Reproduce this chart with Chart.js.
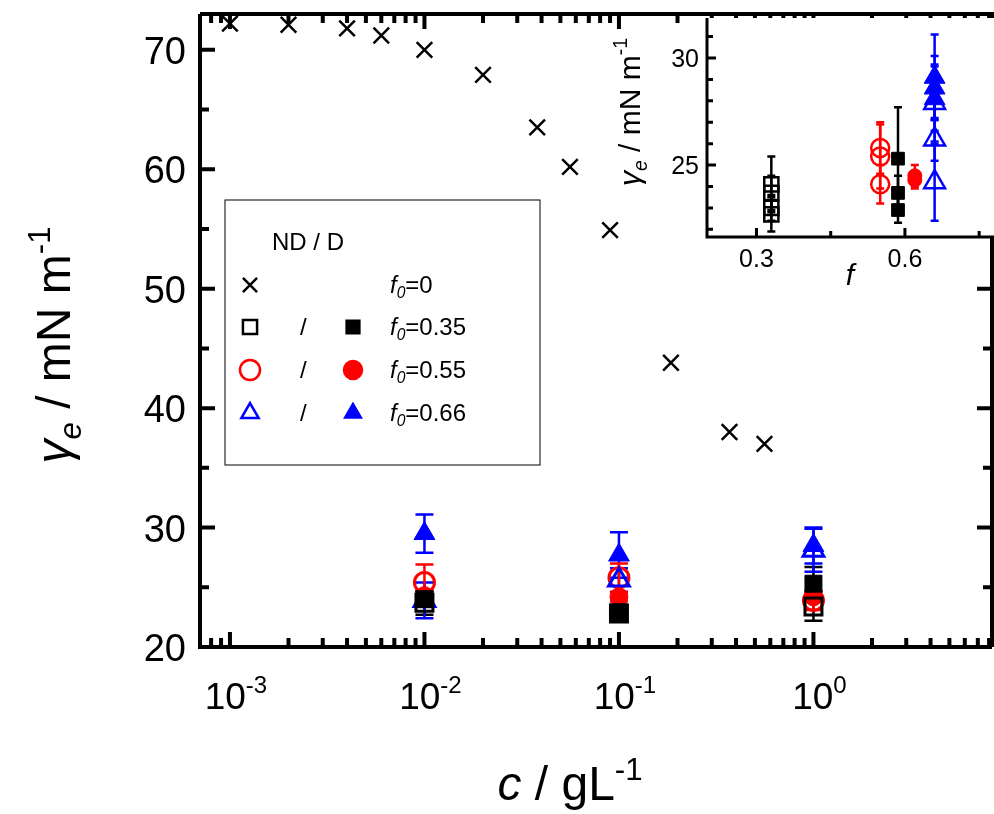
<!DOCTYPE html>
<html>
<head>
<meta charset="utf-8">
<script src="https://cdn.jsdelivr.net/npm/chart.js@4.4.1/dist/chart.umd.min.js"></script>
<style>
  body { margin: 0; background: #fff; }
  #wrap { position: relative; width: 994px; height: 814px; }
  #main { position: absolute; left: 0; top: 0; }
  #inset { position: absolute; left: 600px; top: 0; }
</style>
</head>
<body>
<div id="wrap">
  <canvas id="main" width="994" height="814"></canvas>
  <canvas id="inset" width="394" height="290"></canvas>
</div>
<script>
// dados do grafico principal
const conc = [0.01, 0.1, 1];
const f0Conc = [0.001, 0.002, 0.004, 0.006, 0.01, 0.02, 0.038, 0.056, 0.09, 0.185, 0.37, 0.56];
const f0Gamma = [72.2, 72.1, 71.8, 71.2, 70.0, 67.9, 63.5, 60.2, 54.9, 43.8, 38.0, 37.0];
const sqOpen = [23.7, 22.8, 23.4], sqOpenErr = [1.0, 0.5, 1.2];
const sqFill = [24.0, 22.9, 25.3], sqFillErr = [0.6, 0.4, 1.4];
const ciOpen = [25.4, 25.8, 23.9], ciOpenErr = [1.5, 1.2, 0.8];
const ciFill = [24.3, 24.2, 24.2], ciFillErr = [0.5, 0.4, 0.4];
const trOpen = [23.9, 25.6, 28.1], trOpenErr = [1.5, 1.0, 1.8];
const trFill = [29.5, 27.7, 28.5], trFillErr = [1.6, 1.9, 1.5];
const xTicks = [0.001, 0.01, 0.1, 1];
const xTickExp = ['-3', '-2', '-1', '0'];
const yTicks = [20, 30, 40, 50, 60, 70];

// dados do inset (gamma_e vs f)
const inSqOpenF = [0.33, 0.33, 0.33, 0.33], inSqOpen = [24.1, 23.7, 23.0, 22.7], inSqOpenErr = [1.3, 0.8, 0.6, 0.8];
const inSqFillF = [0.586, 0.586, 0.586], inSqFill = [25.3, 23.7, 22.9], inSqFillErr = [2.4, 0.8, 0.6];
const inCiOpenF = [0.55, 0.55, 0.55], inCiOpen = [25.8, 25.4, 24.1], inCiOpenErr = [1.2, 1.5, 0.9];
const inCiFillF = [0.62, 0.62], inCiFill = [24.5, 24.3], inCiFillErr = [0.5, 0.4];
const inTrOpenF = [0.66, 0.66, 0.66], inTrOpen = [27.9, 26.2, 24.2], inTrOpenErr = [1.8, 1.0, 1.8];
const inTrFillF = [0.66, 0.66, 0.66], inTrFill = [29.1, 28.6, 28.1], inTrFillErr = [2.0, 1.5, 1.5];
const inXTicks = [0.3, 0.6];
const inYTicks = [25, 30];

const FONT = '"Liberation Sans", Arial, sans-serif';
const BLUE = '#0000ff', RED = '#ff0000', BLACK = '#000000';

function pts(xs, ys, errs) {
    return xs.map((x, i) => ({ x: x, y: ys[i], e: errs ? errs[i] : 0 }));
}

function ds(label, data, style, color, filled, r, bw) {
    return {
        label: label, data: data, showLine: false, pointStyle: style,
        pointRadius: r, pointHoverRadius: r, pointBorderWidth: bw,
        borderColor: color, pointBorderColor: color,
        pointBackgroundColor: filled ? color : 'rgba(255,255,255,0)'
    };
}

// barras de erro usando as escalas do chart
const errorBars = {
    id: 'errorBars',
    beforeDatasetsDraw(chart, args, opts) {
        const ctx = chart.ctx, xs = chart.scales.x, ys = chart.scales.y;
        ctx.save();
        chart.data.datasets.forEach(d => {
            ctx.strokeStyle = d.borderColor;
            ctx.lineWidth = opts.width;
            d.data.forEach(p => {
                if (!p.e) return;
                const px = xs.getPixelForValue(p.x);
                const y1 = ys.getPixelForValue(p.y - p.e), y2 = ys.getPixelForValue(p.y + p.e);
                ctx.beginPath();
                ctx.moveTo(px, y1); ctx.lineTo(px, y2);
                ctx.moveTo(px - opts.cap, y1); ctx.lineTo(px + opts.cap, y1);
                ctx.moveTo(px - opts.cap, y2); ctx.lineTo(px + opts.cap, y2);
                ctx.stroke();
            });
        });
        ctx.restore();
    }
};

// eixos com ticks para dentro
function drawFrame(chart, o) {
    const ctx = chart.ctx, a = chart.chartArea, xs = chart.scales.x, ys = chart.scales.y;
    const inX = v => v >= xs.min && v <= xs.max;
    const inY = v => v >= ys.min && v <= ys.max;
    ctx.save();
    ctx.strokeStyle = '#000';
    ctx.lineWidth = o.lw;
    ctx.beginPath();
    ctx.moveTo(a.left, a.top); ctx.lineTo(a.left, a.bottom); ctx.lineTo(a.right, a.bottom);
    if (o.box) { ctx.moveTo(a.left, a.top); ctx.lineTo(a.right, a.top); ctx.lineTo(a.right, a.bottom); }
    ctx.stroke();
    ctx.beginPath();
    [[o.xMajor, o.maj], [o.xMinor, o.min]].forEach(([vals, len]) => vals.filter(inX).forEach(v => {
        const p = xs.getPixelForValue(v);
        ctx.moveTo(p, a.bottom); ctx.lineTo(p, a.bottom - len);
        if (o.box) { ctx.moveTo(p, a.top); ctx.lineTo(p, a.top + len); }
    }));
    [[o.yMajor, o.maj], [o.yMinor, o.min]].forEach(([vals, len]) => vals.filter(inY).forEach(v => {
        const p = ys.getPixelForValue(v);
        ctx.moveTo(a.left, p); ctx.lineTo(a.left + len, p);
        if (o.box) { ctx.moveTo(a.right, p); ctx.lineTo(a.right - len, p); }
    }));
    ctx.stroke();
    ctx.restore();
}

// texto com partes italicas, subscritas e sobrescritas
function richText(ctx, x, y, parts, size, align) {
    const fnt = p => (p.it ? 'italic ' : '') + (p.sub || p.sup ? size * 0.65 : size) + 'px ' + FONT;
    const w = parts.reduce((s, p) => { ctx.font = fnt(p); return s + ctx.measureText(p.t).width; }, 0);
    let cx = align === 'center' ? x - w / 2 : (align === 'right' ? x - w : x);
    parts.forEach(p => {
        ctx.font = fnt(p);
        const dy = p.sub ? size * 0.22 : (p.sup ? -size * 0.42 : 0);
        ctx.fillText(p.t, cx, y + dy);
        cx += ctx.measureText(p.t).width;
    });
}

const yTitle = [{ t: 'γ', it: true }, { t: 'e', it: true, sub: true }, { t: ' / mN m' }, { t: '-1', sup: true }];

const minorLog = [];
[0.0001, 0.001, 0.01, 0.1, 1].forEach(d => { for (let k = 2; k <= 9; k++) minorLog.push(k * d); });

const mainDeco = {
    id: 'mainDeco',
    afterDraw(chart) {
        drawFrame(chart, {
            lw: 4, maj: 15, min: 9, box: true,
            xMajor: xTicks, xMinor: minorLog,
            yMajor: yTicks, yMinor: [25, 35, 45, 55, 65]
        });
        const ctx = chart.ctx, a = chart.chartArea, xs = chart.scales.x, ys = chart.scales.y;
        ctx.save();
        ctx.fillStyle = '#000';
        ctx.textBaseline = 'alphabetic';
        // rotulos dos ticks
        xTicks.forEach((v, i) => {
            richText(ctx, xs.getPixelForValue(v) + 6, a.bottom + 62, [{ t: '10' }, { t: xTickExp[i], sup: true }], 37, 'center');
        });
        ctx.font = '38px ' + FONT;
        ctx.textAlign = 'right';
        yTicks.forEach(v => ctx.fillText(String(v), a.left - 14, ys.getPixelForValue(v) + 14));
        ctx.textAlign = 'left';
        richText(ctx, 570, 800, [{ t: 'c', it: true }, { t: ' / gL' }, { t: '-1', sup: true }], 48, 'center');
        ctx.translate(70, 345);
        ctx.rotate(-Math.PI / 2);
        richText(ctx, 0, 0, yTitle, 48, 'center');
        ctx.restore();

        // legenda
        ctx.save();
        ctx.strokeStyle = '#000'; ctx.lineWidth = 1;
        ctx.strokeRect(225, 200, 315, 265);
        ctx.fillStyle = '#000';
        ctx.font = '24px ' + FONT;
        ctx.fillText('ND / D', 272, 250);
        const rows = [
            { y: 285, open: ['crossRot', BLACK], fill: null, lab: '0' },
            { y: 327, open: ['rect', BLACK], fill: ['rect', BLACK], lab: '0.35' },
            { y: 370, open: ['circle', RED], fill: ['circle', RED], lab: '0.55' },
            { y: 413, open: ['triangle', BLUE], fill: ['triangle', BLUE], lab: '0.66' }
        ];
        rows.forEach(r => {
            ctx.lineWidth = 2.5;
            ctx.strokeStyle = r.open[1]; ctx.fillStyle = '#fff';
            Chart.helpers.drawPoint(ctx, { pointStyle: r.open[0], radius: 10, borderWidth: 2.5 }, 250, r.y);
            if (r.fill) {
                ctx.fillStyle = '#000'; ctx.font = '24px ' + FONT;
                ctx.fillText('/', 300, r.y + 8);
                ctx.strokeStyle = r.fill[1]; ctx.fillStyle = r.fill[1];
                Chart.helpers.drawPoint(ctx, { pointStyle: r.fill[0], radius: 9, borderWidth: 1 }, 353, r.y);
            }
            ctx.fillStyle = '#000';
            richText(ctx, 390, r.y + 8, [{ t: 'f', it: true }, { t: '0', it: true, sub: true }, { t: '=' + r.lab }], 24, 'left');
        });
        ctx.restore();
    }
};

new Chart(document.getElementById('main'), {
    type: 'scatter',
    data: {
        datasets: [
            ds('f0=0', pts(f0Conc, f0Gamma), 'crossRot', BLACK, false, 11, 2.5),
            ds('sq open', pts(conc, sqOpen, sqOpenErr), 'rect', BLACK, false, 12, 3),
            ds('sq fill', pts(conc, sqFill, sqFillErr), 'rect', BLACK, true, 12, 1),
            ds('ci fill', pts(conc, ciFill, ciFillErr), 'circle', RED, true, 9, 1),
            ds('tr open', pts(conc, trOpen, trOpenErr), 'triangle', BLUE, false, 12, 3),
            ds('tr fill', pts(conc, trFill, trFillErr), 'triangle', BLUE, true, 12, 1),
            ds('ci open', pts(conc, ciOpen, ciOpenErr), 'circle', RED, false, 10, 3)
        ]
    },
    options: {
        responsive: false, animation: false,
        layout: { autoPadding: false, padding: { top: 14, right: 2, left: 0, bottom: 0 } },
        plugins: { legend: { display: false }, tooltip: { enabled: false }, errorBars: { width: 2.5, cap: 9 } },
        scales: {
            x: {
                type: 'logarithmic', min: Math.pow(10, -3.154), max: Math.pow(10, 0.918),
                afterFit: s => { s.height = 167; },
                grid: { display: false }, border: { display: false },
                ticks: { display: false }
            },
            y: {
                min: 20, max: 73,
                afterFit: s => { s.width = 200; },
                grid: { display: false }, border: { display: false },
                ticks: { display: false }
            }
        }
    },
    plugins: [errorBars, mainDeco]
});

// inset
const insetDeco = {
    id: 'insetDeco',
    beforeDraw(chart) {
        const a = chart.chartArea, ctx = chart.ctx;
        ctx.save(); ctx.fillStyle = '#fff';
        ctx.fillRect(a.left, a.top, a.right - a.left, a.bottom - a.top);
        ctx.restore();
    },
    afterDraw(chart) {
        drawFrame(chart, {
            lw: 3, maj: 9, min: 6, box: false,
            xMajor: inXTicks, xMinor: [0.45, 0.75],
            yMajor: inYTicks, yMinor: [22, 23, 24, 26, 27, 28, 29, 31]
        });
        const ctx = chart.ctx, a = chart.chartArea, xs = chart.scales.x, ys = chart.scales.y;
        ctx.save();
        ctx.fillStyle = '#000';
        ctx.font = '25px ' + FONT;
        ctx.textAlign = 'center';
        inXTicks.forEach(v => ctx.fillText(v.toFixed(1), xs.getPixelForValue(v), a.bottom + 30));
        ctx.textAlign = 'right';
        inYTicks.forEach(v => ctx.fillText(String(v), a.left - 8, ys.getPixelForValue(v) + 9));
        ctx.textAlign = 'left';
        richText(ctx, 250, 285, [{ t: 'f', it: true }], 30, 'center');
        ctx.translate(40, 112);
        ctx.rotate(-Math.PI / 2);
        richText(ctx, 0, 0, yTitle, 30, 'center');
        ctx.restore();
    }
};

new Chart(document.getElementById('inset'), {
    type: 'scatter',
    data: {
        datasets: [
            ds('sq open', pts(inSqOpenF, inSqOpen, inSqOpenErr), 'rect', BLACK, false, 10, 2.5),
            ds('sq fill', pts(inSqFillF, inSqFill, inSqFillErr), 'rect', BLACK, true, 9, 1),
            ds('ci open', pts(inCiOpenF, inCiOpen, inCiOpenErr), 'circle', RED, false, 9, 2.5),
            ds('ci fill', pts(inCiFillF, inCiFill, inCiFillErr), 'circle', RED, true, 7, 1),
            ds('tr open', pts(inTrOpenF, inTrOpen, inTrOpenErr), 'triangle', BLUE, false, 12, 2.5),
            ds('tr fill', pts(inTrFillF, inTrFill, inTrFillErr), 'triangle', BLUE, true, 12, 1)
        ]
    },
    options: {
        responsive: false, animation: false,
        layout: { autoPadding: false, padding: { top: 18, right: 0, left: 0, bottom: 0 } },
        plugins: { legend: { display: false }, tooltip: { enabled: false }, errorBars: { width: 2.5, cap: 4 } },
        scales: {
            x: {
                type: 'linear', min: 0.2, max: 0.78,
                afterFit: s => { s.height = 53; },
                grid: { display: false }, border: { display: false },
                ticks: { display: false }
            },
            y: {
                min: 21.64, max: 31.87,
                afterFit: s => { s.width = 107; },
                grid: { display: false }, border: { display: false },
                ticks: { display: false }
            }
        }
    },
    plugins: [errorBars, insetDeco]
});
</script>
</body>
</html>
